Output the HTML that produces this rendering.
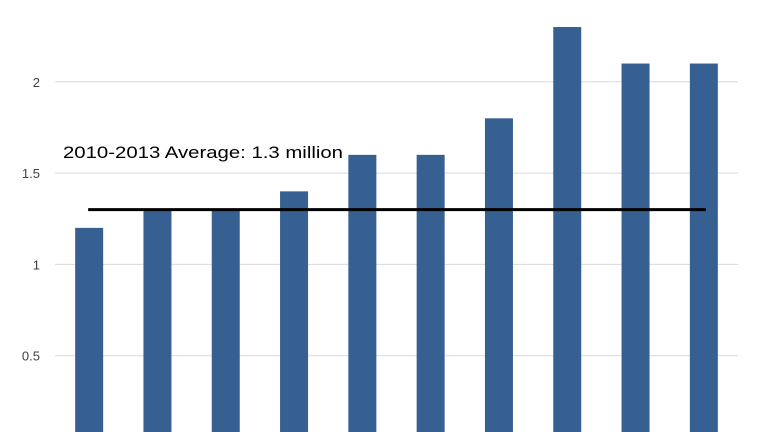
<!DOCTYPE html>
<html><head><meta charset="utf-8"><style>
html,body{margin:0;padding:0;background:#fff;}
svg{display:block;font-family:"Liberation Sans",sans-serif;}
</style></head><body>
<svg id="chart" width="764" height="432"></svg>
<script>
const categories=["2010","2011","2012","2013","2014","2015","2016","2017","2018","2019"];
const values=[1.2,1.3,1.3,1.4,1.6,1.6,1.8,2.3,2.1,2.1];
const ticks=[0.5,1,1.5,2];
const averageValue=1.3;
const averageLabel="2010-2013 Average: 1.3 million";
const NS="http://www.w3.org/2000/svg";
const svg=document.getElementById('chart');
const y0=447, pxPerUnit=182.6;
const y=v=>y0-v*pxPerUnit;
const x0=55, step=68.3;
const xc=i=>x0+step*(i+0.5);
function mk(t,a){const e=document.createElementNS(NS,t);for(const k in a)e.setAttribute(k,a[k]);svg.appendChild(e);return e;}
ticks.forEach(t=>{
  const g=mk('line',{x1:55,x2:738,y1:y(t),y2:y(t),stroke:'#d9d9d9','stroke-width':1});
  
  
  const l=mk('text',{x:40,y:y(t)+5,'text-anchor':'end','font-size':13,fill:'#404040'});
  l.textContent=t;
  
  
});
values.forEach((v,i)=>{
  const r=mk('rect',{x:xc(i)-14,y:y(v),width:28,height:y0-y(v)+5,fill:'#376092'});
  
  
});
const a=mk('line',{x1:xc(0)-1,x2:xc(values.length-1)+2,y1:y(averageValue),y2:y(averageValue),stroke:'#000','stroke-width':3});


const at=mk('text',{x:63,y:158,'font-size':17,fill:'#000',textLength:280,lengthAdjust:'spacingAndGlyphs'});
at.textContent=averageLabel;


</script>
</body></html>
